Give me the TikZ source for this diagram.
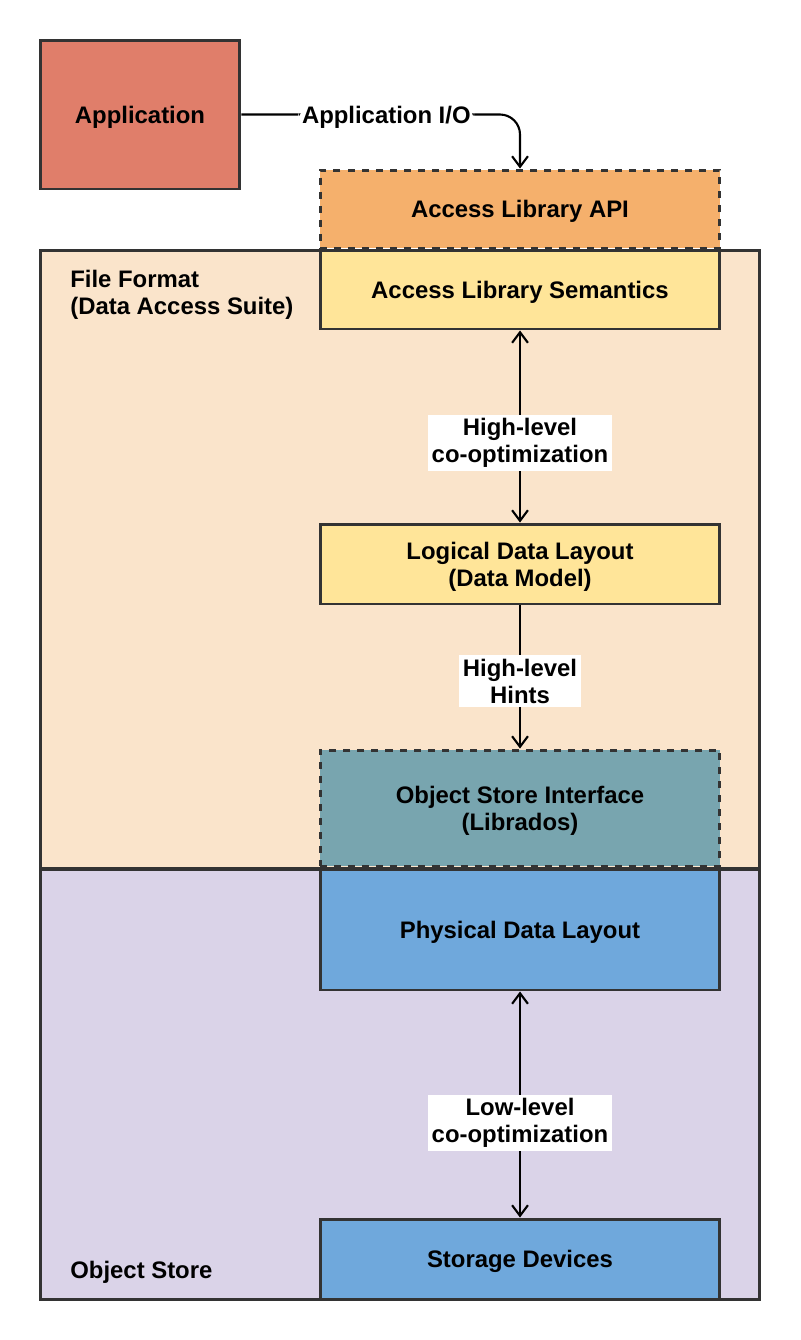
\documentclass[tikz,border=0pt]{standalone}
\usepackage{fontspec}
\setmainfont{Liberation Sans}
\usetikzlibrary{arrows.meta}

\definecolor{edgegray}{HTML}{333333}
\definecolor{appred}{HTML}{E07E6A}
\definecolor{apiorange}{HTML}{F5B06C}
\definecolor{fmtpeach}{HTML}{FAE4CB}
\definecolor{semyellow}{HTML}{FFE599}
\definecolor{ositeal}{HTML}{78A5AF}
\definecolor{storelilac}{HTML}{DAD3E8}
\definecolor{physblue}{HTML}{6FA8DC}

\tikzset{
  lbl/.style={font=\fontsize{13.6}{15.4}\selectfont\bfseries},
  blk/.style={lbl,draw=edgegray,line width=1.7pt,align=center,
    minimum width=8cm,inner sep=0pt,text depth=0pt},
  dashblk/.style={blk,dash pattern=on 4pt off 4pt},
  region/.style={draw=edgegray,line width=1.7pt,minimum width=14.4cm,inner sep=0pt},
  tag/.style={lbl,fill=white,align=center,inner sep=2pt},
  flow/.style={line width=1.2pt,-{Straight Barb[length=6pt,width=9pt]}},
  twoway/.style={line width=1.2pt,{Straight Barb[length=6pt,width=9pt]}-{Straight Barb[length=6pt,width=9pt]}}
}

\begin{document}
\begin{tikzpicture}[x=0.02cm,y=-0.02cm]
\useasboundingbox (0,0) rectangle (801,1340);

% the two layers
\node (ff) [region,fill=fmtpeach,minimum height=12.38cm] at (400,559.5) {};
\node (os) [region,fill=storelilac,minimum height=8.62cm] at (400,1084.5) {};
\node (fft) [lbl,anchor=north west,inner sep=0pt,align=left] at (70,270)
    {File Format\\(Data Access Suite)};
\node (ost) [lbl,anchor=base west,inner sep=0pt] at (70,1278) {Object Store};

% blocks
\node (app) [blk,fill=appred,minimum width=4cm,minimum height=2.98cm] at (140,114.5) {Application};
\node (api) [dashblk,fill=apiorange,minimum height=1.56cm] at (520,209) {Access Library API};
\node (sem) [blk,fill=semyellow,minimum height=1.58cm] at (520,289.5) {Access Library Semantics};
\node (ldl) [blk,fill=semyellow,minimum height=1.6cm] at (520,564) {Logical Data Layout\\(Data Model)};
\node (osi) [dashblk,fill=ositeal,minimum height=2.32cm] at (520,808) {Object Store Interface\\(Librados)};
\node (pdl) [blk,fill=physblue,minimum height=2.42cm] at (520,929.5) {Physical Data Layout};
\node (dev) [blk,fill=physblue,minimum height=1.6cm] at (520,1259) {Storage Devices};

% connectors
\draw[flow,rounded corners=20*0.02cm] (app.east) -| node (io) [tag,pos=0.26,yshift=-1.5pt] {Application I/O} (api.north);
\draw[twoway] (sem.south) -- node (hl) [tag,pos=0.585] {High-level\\co-optimization} (ldl.north);
\draw[flow] (ldl.south) -- node (hh) [tag,pos=0.53] {High-level\\Hints} (osi.north);
\draw[twoway] (pdl.south) -- node (ll) [tag,pos=0.583] {Low-level\\co-optimization} (dev.north);

\end{tikzpicture}
\end{document}
